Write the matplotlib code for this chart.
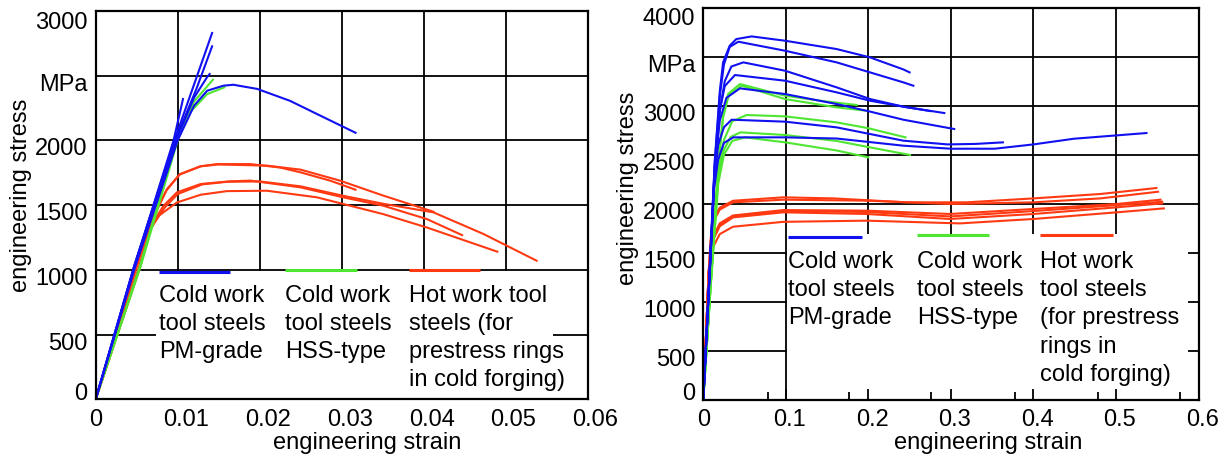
import matplotlib
matplotlib.use('Agg')
import matplotlib.pyplot as plt
from matplotlib.patches import Rectangle
from matplotlib.transforms import ScaledTranslation, blended_transform_factory

plt.rcParams['font.family'] = ['Liberation Sans', 'DejaVu Sans']

BLUE = '#1010f0'
GREEN = '#4fe632'
RED = '#ff3a12'

# ---- left panel: small strain range (strain, MPa) ----
left_blue = [
    ([0, 0.0047, 0.0096, 0.0121, 0.0142], [0, 1030, 2000, 2450, 2830]),
    ([0, 0.0047, 0.0097, 0.0123, 0.0142], [0, 1030, 2000, 2400, 2727]),
    ([0, 0.0047, 0.0098, 0.0120, 0.0136, 0.0139], [0, 1020, 2000, 2330, 2490, 2513]),
    ([0, 0.0047, 0.0095, 0.01065], [0, 1020, 2000, 2320]),
    ([0, 0.0048, 0.0100, 0.0120, 0.0136, 0.0156, 0.0168, 0.0197, 0.0237, 0.0279, 0.0317],
     [0, 1020, 2000, 2268, 2384, 2423, 2430, 2398, 2306, 2176, 2059]),
]
left_green = [
    ([0, 0.0054, 0.0099, 0.0120, 0.0143], [0, 1030, 2011, 2300, 2469]),
    ([0, 0.0055, 0.0101, 0.0115, 0.0136, 0.0157], [0, 1030, 2020, 2217, 2358, 2410]),
]
left_red = [
    ([0, 0.0053, 0.0071, 0.0087, 0.0103, 0.0128, 0.0148, 0.0189, 0.0225, 0.0250, 0.0286, 0.0317],
     [0, 1020, 1418, 1624, 1740, 1800, 1817, 1817, 1790, 1753, 1689, 1619]),
    ([0, 0.0053, 0.0070, 0.0086, 0.0102, 0.0128, 0.0150, 0.0209, 0.0250, 0.0298, 0.0351, 0.0412],
     [0, 1020, 1400, 1610, 1735, 1800, 1814, 1805, 1774, 1689, 1573, 1449]),
    ([0, 0.0054, 0.0067, 0.0083, 0.0099, 0.0128, 0.0164, 0.0189, 0.0250, 0.0302, 0.0351, 0.0404, 0.0447],
     [0, 1020, 1341, 1496, 1598, 1663, 1684, 1689, 1637, 1560, 1495, 1392, 1268]),
    ([0, 0.0054, 0.0068, 0.0084, 0.0100, 0.0130, 0.0160, 0.0200, 0.0250, 0.0302, 0.0351, 0.0412, 0.0473, 0.0538],
     [0, 1020, 1330, 1480, 1585, 1660, 1680, 1683, 1645, 1572, 1510, 1444, 1277, 1070]),
    ([0, 0.0050, 0.0062, 0.0077, 0.0099, 0.0128, 0.0160, 0.0209, 0.0270, 0.0351, 0.0404, 0.0490],
     [0, 1020, 1264, 1418, 1520, 1580, 1608, 1611, 1560, 1430, 1327, 1140]),
]

# ---- right panel: large strain range (strain, MPa) ----
right_blue = [
    ([0, 0.007, 0.014, 0.020, 0.024, 0.032, 0.040, 0.0586, 0.099, 0.1616, 0.202, 0.2424, 0.250],
     [0, 1200, 2450, 3150, 3442, 3612, 3680, 3707, 3663, 3578, 3493, 3370, 3340]),
    ([0, 0.007, 0.014, 0.020, 0.025, 0.032, 0.0424, 0.099, 0.1616, 0.202, 0.2424, 0.2545],
     [0, 1200, 2430, 3100, 3420, 3600, 3653, 3561, 3442, 3340, 3238, 3204]),
    ([0, 0.007, 0.014, 0.020, 0.026, 0.034, 0.0485, 0.099, 0.1616, 0.202, 0.2424, 0.292],
     [0, 1180, 2400, 2950, 3250, 3400, 3442, 3357, 3187, 3068, 2990, 2925]),
    ([0, 0.007, 0.014, 0.020, 0.026, 0.0384, 0.099, 0.1616, 0.202, 0.2424, 0.275],
     [0, 1180, 2380, 2950, 3200, 3313, 3255, 3136, 3051, 2990, 2945]),
    ([0, 0.007, 0.014, 0.020, 0.028, 0.0444, 0.099, 0.1616, 0.202, 0.2424, 0.304],
     [0, 1170, 2350, 2850, 3080, 3177, 3119, 3017, 2940, 2857, 2762]),
    ([0, 0.007, 0.013, 0.018, 0.025, 0.0343, 0.099, 0.1616, 0.2424, 0.296, 0.330, 0.363],
     [0, 1170, 2200, 2600, 2780, 2857, 2837, 2779, 2643, 2605, 2610, 2626]),
    ([0, 0.007, 0.013, 0.018, 0.025, 0.0364, 0.099, 0.1616, 0.2424, 0.300, 0.353, 0.400, 0.449, 0.537],
     [0, 1160, 2150, 2450, 2620, 2677, 2677, 2665, 2592, 2561, 2561, 2605, 2663, 2721]),
]
right_green = [
    ([0, 0.009, 0.018, 0.024, 0.030, 0.0444, 0.099, 0.1414, 0.186],
     [0, 1200, 2400, 2900, 3120, 3221, 3102, 3051, 3007]),
    ([0, 0.009, 0.018, 0.024, 0.031, 0.0465, 0.099, 0.1616, 0.196],
     [0, 1200, 2380, 2880, 3110, 3204, 3068, 2983, 2950]),
    ([0, 0.009, 0.018, 0.025, 0.035, 0.0525, 0.099, 0.1616, 0.200, 0.245],
     [0, 1180, 2300, 2650, 2840, 2905, 2891, 2830, 2770, 2677]),
    ([0, 0.009, 0.018, 0.025, 0.033, 0.045, 0.099, 0.1616, 0.2505],
     [0, 1170, 2250, 2550, 2680, 2728, 2701, 2640, 2497]),
    ([0, 0.009, 0.018, 0.025, 0.035, 0.0505, 0.099, 0.1616, 0.200],
     [0, 1160, 2200, 2500, 2640, 2677, 2626, 2543, 2473]),
]
right_red = [
    ([0, 0.0065, 0.009, 0.013, 0.020, 0.036, 0.097, 0.158, 0.246, 0.319, 0.400, 0.481, 0.549],
     [0, 1300, 1650, 1860, 1960, 2030, 2065, 2054, 2014, 2014, 2054, 2099, 2160]),
    ([0, 0.0065, 0.009, 0.013, 0.020, 0.036, 0.097, 0.198, 0.299, 0.400, 0.481, 0.551],
     [0, 1300, 1620, 1830, 1940, 2014, 2041, 2031, 1997, 2014, 2054, 2122]),
    ([0, 0.0065, 0.009, 0.013, 0.020, 0.036, 0.097, 0.198, 0.299, 0.400, 0.501, 0.554],
     [0, 1290, 1520, 1680, 1800, 1880, 1935, 1929, 1895, 1946, 1997, 2041]),
    ([0, 0.0065, 0.009, 0.013, 0.020, 0.036, 0.097, 0.198, 0.299, 0.400, 0.501, 0.556],
     [0, 1290, 1510, 1665, 1785, 1870, 1925, 1915, 1870, 1925, 1985, 2020]),
    ([0, 0.0065, 0.009, 0.013, 0.020, 0.036, 0.097, 0.198, 0.299, 0.400, 0.501, 0.556],
     [0, 1290, 1500, 1650, 1770, 1860, 1912, 1895, 1844, 1895, 1963, 2003]),
    ([0, 0.0065, 0.008, 0.012, 0.020, 0.036, 0.097, 0.198, 0.311, 0.400, 0.501, 0.558],
     [0, 1280, 1420, 1560, 1690, 1765, 1815, 1827, 1799, 1844, 1912, 1952]),
]

# axis ticks and labels
left_xticks = [0, 0.01, 0.02, 0.03, 0.04, 0.05, 0.06]
left_xlabels = ['0', '0.01', '0.02', '0.03', '0.04', '0.05', '0.06']
left_yticks = [0, 500, 1000, 1500, 2000, 2500, 3000]
left_ylabels = ['0', '500', '1000', '1500', '2000', 'MPa', '3000']
right_xticks = [0, 0.1, 0.2, 0.3, 0.4, 0.5, 0.6]
right_xlabels = ['0', '0.1', '0.2', '0.3', '0.4', '0.5', '0.6']
right_xminor = [0.078, 0.176, 0.276, 0.378, 0.478, 0.578]
right_yticks = [0, 500, 1000, 1500, 2000, 2500, 3000, 3500, 4000]
right_ylabels = ['0', '500', '1000', '1500', '2000', '2500', '3000', 'MPa', '4000']

left_legend = ['Cold work\ntool steels\nPM-grade',
               'Cold work\ntool steels\nHSS-type',
               'Hot work tool\nsteels (for\nprestress rings\nin cold forging)']
right_legend = ['Cold work\ntool steels\nPM-grade',
                'Cold work\ntool steels\nHSS-type',
                'Hot work\ntool steels\n(for prestress\nrings in\ncold forging)']

W, H = 1220, 456
fig = plt.figure(figsize=(W / 100, H / 100), dpi=100)


def px_axes(l, t, r, b):
    return fig.add_axes([l / W, 1 - b / H, (r - l) / W, (b - t) / H])


def offset(dx, dy):
    return ScaledTranslation(dx / 100, dy / 100, fig.dpi_scale_trans)


def panel(ax, curves, xticks, xlabels, yticks, ylabels, xshift, box, texts,
          seg_x, seg_y, text_top):
    ax.set_xlim(xticks[0], xticks[-1])
    ax.set_ylim(yticks[0], yticks[-1])
    ax.set_xticks(xticks)
    ax.set_yticks(yticks)
    ax.set_xticklabels([])
    ax.set_yticklabels([])
    ax.tick_params(length=0)
    for s in ax.spines.values():
        s.set_linewidth(1.6)
        s.set_zorder(5)

    # grid drawn by hand so the white legend box can hide part of it
    for v in xticks[1:-1]:
        ax.axvline(v, color='black', lw=1.3, zorder=0.5)
    for v in yticks[1:-1]:
        ax.axhline(v, color='black', lw=1.3, zorder=0.5)
    ax.add_patch(Rectangle((box[0], 0), box[1] - box[0], box[2],
                           facecolor='white', edgecolor='none', zorder=1))

    for color, group in curves:
        for xs, ys in group:
            ax.plot(xs, ys, color=color, lw=1.5, zorder=3)

    # tick labels
    ytr = blended_transform_factory(ax.transAxes, ax.transData)
    for i, (v, lab) in enumerate(zip(yticks, ylabels)):
        dy = -5.5
        if i == 0:
            dy = 9
        elif i == len(yticks) - 1:
            dy = -8
        ax.text(0, v, lab, transform=ytr + offset(-8, dy), ha='right',
                va='center_baseline', fontsize=17, clip_on=False)
    xtr = blended_transform_factory(ax.transData, ax.transAxes)
    for i, (v, lab) in enumerate(zip(xticks, xlabels)):
        dx = 0 if i == 0 else xshift
        ax.text(v, 0, lab, transform=xtr + offset(dx, -17), ha='center',
                va='center_baseline', fontsize=17, clip_on=False)

    # legend samples and text
    for (x0, x1), y, color, txt in zip(seg_x, seg_y, [BLUE, GREEN, RED], texts):
        ax.plot([x0, x1], [y, y], color=color, lw=2.2, solid_capstyle='butt', zorder=4)
        ax.text(x0, text_top, txt, ha='left', va='top', fontsize=17,
                linespacing=1.36, zorder=4)


ax1 = px_axes(95.7, 12, 587.5, 400.2)
panel(ax1, [(RED, left_red), (GREEN, left_green), (BLUE, left_blue)],
      left_xticks, left_xlabels, left_yticks, left_ylabels, 8,
      (0.0074, 0.0558, 990), left_legend,
      [(0.00768, 0.01643), (0.02313, 0.03188), (0.03817, 0.04691)],
      [985, 998, 998], 892)

ax2 = px_axes(703.3, 8.7, 1198.5, 400.7)
panel(ax2, [(RED, right_red), (GREEN, right_green), (BLUE, right_blue)],
      right_xticks, right_xlabels, right_yticks, right_ylabels, 4,
      (0.101, 0.587, 1690), right_legend,
      [(0.1031, 0.192), (0.2587, 0.3467), (0.408, 0.497)],
      [1657, 1681, 1681], 1525)
ax2.set_xticks(right_xminor, minor=True)
ax2.tick_params(axis='x', which='major', direction='in', length=8, width=1.3)
ax2.tick_params(axis='x', which='minor', direction='in', length=6, width=1.3)
ax2.tick_params(axis='y', length=0)

fig.text(366.7 / W, 1 - 443 / H, 'engineering strain', ha='center', va='center', fontsize=17)
fig.text(988 / W, 1 - 443 / H, 'engineering strain', ha='center', va='center', fontsize=17)
fig.text(20.7 / W, 1 - 195.7 / H, 'engineering stress', ha='center', va='center',
         rotation=90, fontsize=17)
fig.text(628 / W, 1 - 188.3 / H, 'engineering stress', ha='center', va='center',
         rotation=90, fontsize=17)

fig.savefig('out.png', dpi=100)
